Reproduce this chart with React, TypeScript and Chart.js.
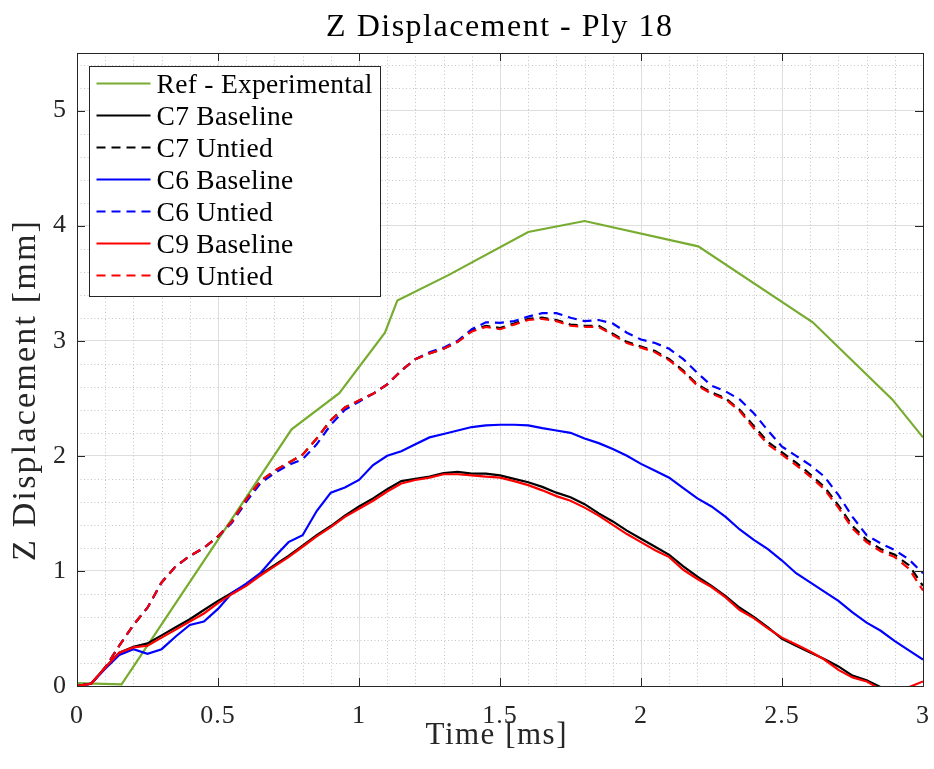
import React, { useEffect, useRef } from "react";
import { Chart, registerables } from "chart.js";

Chart.register(...registerables);

// ---- Data ----
const TIME = [
  0, 0.05, 0.1, 0.15, 0.2, 0.25, 0.3, 0.35, 0.4, 0.45, 0.5, 0.55, 0.6, 0.65, 0.7, 0.75, 0.8, 0.85, 0.9, 0.95,
  1, 1.05, 1.1, 1.15, 1.2, 1.25, 1.3, 1.35, 1.4, 1.45, 1.5, 1.55, 1.6, 1.65, 1.7, 1.75, 1.8, 1.85, 1.9, 1.95,
  2, 2.05, 2.1, 2.15, 2.2, 2.25, 2.3, 2.35, 2.4, 2.45, 2.5, 2.55, 2.6, 2.65, 2.7, 2.75, 2.8, 2.85, 2.9, 2.95, 3,
];

const REF_TIME = [0, 0.158, 0.761, 0.93, 1.092, 1.136, 1.317, 1.6, 1.8, 2.203, 2.609, 2.891, 3.0];
const REF_Z = [0.025, 0.015, 2.23, 2.545, 3.07, 3.35, 3.57, 3.945, 4.04, 3.82, 3.16, 2.49, 2.16];

const C7_BASELINE = [
  0, 0.02, 0.16, 0.29, 0.34, 0.37, 0.44, 0.51, 0.58, 0.66, 0.74, 0.81, 0.88, 0.97, 1.05, 1.13, 1.22, 1.31, 1.39, 1.48,
  1.56, 1.63, 1.71, 1.78, 1.8, 1.82, 1.85, 1.86, 1.845, 1.845, 1.83, 1.8, 1.77, 1.73, 1.68, 1.64, 1.58, 1.5, 1.43, 1.35,
  1.28, 1.21, 1.14, 1.04, 0.95, 0.87, 0.78, 0.68, 0.6, 0.51, 0.41, 0.35, 0.29, 0.235, 0.17, 0.09, 0.05, -0.01, -0.05, -0.08, -0.1,
];
const C7_UNTIED = [
  0, 0.02, 0.16, 0.35, 0.53, 0.68, 0.9, 1.04, 1.13, 1.2, 1.3, 1.43, 1.62, 1.78, 1.87, 1.94, 2.01, 2.15, 2.31, 2.42,
  2.48, 2.54, 2.62, 2.74, 2.84, 2.89, 2.93, 2.99, 3.09, 3.13, 3.11, 3.15, 3.19, 3.2, 3.18, 3.14, 3.13, 3.13, 3.06, 2.99,
  2.95, 2.91, 2.84, 2.74, 2.62, 2.55, 2.5, 2.4, 2.26, 2.12, 2.03, 1.94, 1.84, 1.73, 1.57, 1.39, 1.27, 1.19, 1.14, 1.05, 0.87,
];
const C6_BASELINE = [
  0, 0.02, 0.15, 0.27, 0.32, 0.28, 0.32, 0.43, 0.53, 0.56, 0.67, 0.81, 0.89, 0.98, 1.12, 1.25, 1.31, 1.52, 1.68, 1.725,
  1.79, 1.92, 2.0, 2.04, 2.1, 2.16, 2.19, 2.22, 2.25, 2.265, 2.27, 2.27, 2.265, 2.24, 2.22, 2.2, 2.15, 2.11, 2.06, 2.0,
  1.93, 1.87, 1.81, 1.72, 1.63, 1.56, 1.47, 1.36, 1.27, 1.19, 1.09, 0.98, 0.9, 0.82, 0.74, 0.64, 0.55, 0.48, 0.39, 0.31, 0.23,
];
const C6_UNTIED = [
  0, 0.02, 0.16, 0.35, 0.53, 0.68, 0.9, 1.04, 1.13, 1.2, 1.3, 1.42, 1.6, 1.76, 1.85, 1.92, 1.97, 2.1, 2.27, 2.4,
  2.47, 2.54, 2.62, 2.74, 2.84, 2.9, 2.94, 3.0, 3.1, 3.16, 3.155, 3.17, 3.21, 3.24, 3.24, 3.2, 3.17, 3.18, 3.15, 3.07,
  3.01, 2.98, 2.93, 2.84, 2.72, 2.61, 2.56, 2.49, 2.37, 2.22, 2.08, 2.0, 1.92, 1.82, 1.66, 1.47, 1.31, 1.24, 1.18, 1.1, 0.98,
];
const C9_BASELINE = [
  0, 0.02, 0.16, 0.29, 0.335, 0.35, 0.42, 0.49, 0.56, 0.63, 0.72, 0.8, 0.87, 0.96, 1.04, 1.12, 1.21, 1.3, 1.38, 1.47,
  1.54, 1.61, 1.69, 1.76, 1.79, 1.81, 1.84, 1.84, 1.83, 1.82, 1.81, 1.78, 1.745, 1.7, 1.65, 1.61, 1.55, 1.48, 1.4, 1.32,
  1.25, 1.18, 1.12, 1.01, 0.93, 0.86, 0.77, 0.66, 0.59, 0.5, 0.42, 0.36, 0.3, 0.23, 0.14, 0.075, 0.04, -0.03, -0.06, -0.01, 0.04,
];
const C9_UNTIED = [
  0, 0.02, 0.16, 0.35, 0.53, 0.68, 0.9, 1.04, 1.13, 1.2, 1.3, 1.43, 1.62, 1.78, 1.87, 1.94, 2.01, 2.15, 2.31, 2.42,
  2.48, 2.54, 2.62, 2.74, 2.84, 2.89, 2.93, 2.99, 3.08, 3.12, 3.1, 3.14, 3.18, 3.19, 3.17, 3.13, 3.12, 3.12, 3.05, 2.98,
  2.94, 2.9, 2.83, 2.73, 2.61, 2.54, 2.49, 2.39, 2.24, 2.1, 2.01, 1.92, 1.82, 1.71, 1.55, 1.37, 1.25, 1.17, 1.12, 1.02, 0.83,
];

const X_TICKS = [0, 0.5, 1, 1.5, 2, 2.5, 3];
const Y_TICKS = [0, 1, 2, 3, 4, 5];

const TITLE = "Z Displacement - Ply 18";
const X_LABEL = "Time [ms]";
const Y_LABEL = "Z Displacement [mm]";

const SERIES = [
  { label: "Ref - Experimental", t: REF_TIME, z: REF_Z, color: "#77AC30", dash: [] as number[] },
  { label: "C7 Baseline", t: TIME, z: C7_BASELINE, color: "#000000", dash: [] as number[] },
  { label: "C7 Untied", t: TIME, z: C7_UNTIED, color: "#000000", dash: [9, 6] },
  { label: "C6 Baseline", t: TIME, z: C6_BASELINE, color: "#0000FF", dash: [] as number[] },
  { label: "C6 Untied", t: TIME, z: C6_UNTIED, color: "#0000FF", dash: [9, 6] },
  { label: "C9 Baseline", t: TIME, z: C9_BASELINE, color: "#FF0000", dash: [] as number[] },
  { label: "C9 Untied", t: TIME, z: C9_UNTIED, color: "#FF0000", dash: [9, 6] },
];

const FONT = "'Liberation Serif', 'Times New Roman', serif";
const AXIS_COLOR = "#262626";

function spacedText(ctx: any, text: string, x: number, y: number, size: number, ls: number, color: string, rotate = 0) {
  ctx.save();
  ctx.font = `${size}px ${FONT}`;
  ctx.letterSpacing = `${ls}px`;
  ctx.fillStyle = color;
  ctx.textBaseline = "alphabetic";
  ctx.textAlign = "left";
  const w = ctx.measureText(text).width - ls;
  ctx.translate(x, y);
  if (rotate) ctx.rotate(rotate);
  ctx.fillText(text, -w / 2, 0);
  ctx.restore();
}

const decorPlugin = {
  id: "decor",
  beforeDraw(chart: any) {
    chart.ctx.letterSpacing = "1px";
  },
  beforeDatasetsDraw(chart: any) {
    const { ctx, chartArea: a, scales } = chart;
    const xs = scales.x;
    const ys = scales.y;
    ctx.save();
    ctx.strokeStyle = "#c4c4c4";
    ctx.lineWidth = 1;
    ctx.setLineDash([1, 2.5]);
    for (let i = 1; i < 30; i++) {
      if (i % 5 === 0) continue;
      const px = Math.round(xs.getPixelForValue(i / 10)) + 0.5;
      ctx.beginPath();
      ctx.moveTo(px, a.top);
      ctx.lineTo(px, a.bottom);
      ctx.stroke();
    }
    for (let i = 1; i < 28; i++) {
      if (i % 5 === 0) continue;
      const py = Math.round(ys.getPixelForValue(i / 5)) + 0.5;
      ctx.beginPath();
      ctx.moveTo(a.left, py);
      ctx.lineTo(a.right, py);
      ctx.stroke();
    }
    ctx.restore();
  },
  afterDatasetsDraw(chart: any) {
    const { ctx, chartArea: a, scales } = chart;
    const xs = scales.x;
    const ys = scales.y;
    ctx.save();
    ctx.setLineDash([]);
    ctx.strokeStyle = AXIS_COLOR;
    ctx.lineWidth = 1;
    ctx.strokeRect(Math.round(a.left) + 0.5, Math.round(a.top) + 0.5, Math.round(a.right - a.left), Math.round(a.bottom - a.top));
    const tl = 8;
    for (const v of X_TICKS) {
      const px = Math.round(xs.getPixelForValue(v)) + 0.5;
      ctx.beginPath();
      ctx.moveTo(px, a.bottom);
      ctx.lineTo(px, a.bottom - tl);
      ctx.moveTo(px, a.top);
      ctx.lineTo(px, a.top + tl);
      ctx.stroke();
    }
    for (const v of Y_TICKS) {
      const py = Math.round(ys.getPixelForValue(v)) + 0.5;
      ctx.beginPath();
      ctx.moveTo(a.left, py);
      ctx.lineTo(a.left + tl, py);
      ctx.moveTo(a.right, py);
      ctx.lineTo(a.right - tl, py);
      ctx.stroke();
    }
    // legend
    const bx = a.left + 12.5;
    const by = a.top + 13.5;
    const bw = 291;
    const bh = 230;
    ctx.fillStyle = "#ffffff";
    ctx.fillRect(bx, by, bw, bh);
    ctx.strokeStyle = AXIS_COLOR;
    ctx.strokeRect(bx, by, bw, bh);
    ctx.font = `27.5px ${FONT}`;
    ctx.letterSpacing = "0.3px";
    ctx.textBaseline = "alphabetic";
    ctx.textAlign = "left";
    chart.data.datasets.forEach((ds: any, i: number) => {
      const cy = by + 17 + i * 32;
      ctx.strokeStyle = ds.borderColor;
      ctx.lineWidth = 2.2;
      ctx.setLineDash(ds.borderDash || []);
      ctx.beginPath();
      ctx.moveTo(bx + 7, cy);
      ctx.lineTo(bx + 61, cy);
      ctx.stroke();
      ctx.setLineDash([]);
      ctx.fillStyle = "#000000";
      ctx.fillText(ds.label, bx + 67, cy + 9);
    });
    ctx.restore();

    // title and axis labels
    spacedText(ctx, TITLE, (a.left + a.right) / 2 - 1, 36, 32, 1.5, "#000000");
    spacedText(ctx, X_LABEL, (a.left + a.right) / 2 - 4, 744, 31, 1.5, AXIS_COLOR);
    spacedText(ctx, Y_LABEL, 35, 391, 34, 2.2, AXIS_COLOR, -Math.PI / 2);
  },
};

export default function App() {
  const canvasRef = useRef<HTMLCanvasElement | null>(null);

  useEffect(() => {
    if (!canvasRef.current) return;
    const datasets = SERIES.map((s, i) => ({
      label: s.label,
      data: s.t.map((t, k) => ({ x: t, y: s.z[k] })),
      borderColor: s.color,
      backgroundColor: s.color,
      borderWidth: 2.2,
      borderDash: s.dash,
      pointRadius: 0,
      tension: 0,
      fill: false,
      order: SERIES.length - i,
    }));
    const chart = new Chart(canvasRef.current, {
      type: "line",
      data: { datasets },
      plugins: [decorPlugin],
      options: {
        animation: false,
        responsive: false,
        devicePixelRatio: 1,
        layout: { padding: { left: 0, right: 11, top: 53, bottom: 0 } },
        plugins: {
          legend: { display: false },
          tooltip: { enabled: false },
          title: { display: false },
        },
        scales: {
          x: {
            type: "linear",
            min: 0,
            max: 3,
            afterBuildTicks: (scale: any) => {
              scale.ticks = X_TICKS.map((v) => ({ value: v }));
            },
            afterFit: (scale: any) => {
              scale.height = 83;
              scale.paddingLeft = 0;
              scale.paddingRight = 0;
            },
            grid: { color: "#dedede", drawTicks: false, lineWidth: 1 },
            border: { display: false },
            ticks: {
              color: AXIS_COLOR,
              font: { family: FONT, size: 26 },
              padding: 15,
              maxRotation: 0,
              callback: (v: any) => String(v),
            },
          },
          y: {
            type: "linear",
            min: 0,
            max: 5.5,
            afterBuildTicks: (scale: any) => {
              scale.ticks = Y_TICKS.map((v) => ({ value: v }));
            },
            afterFit: (scale: any) => {
              scale.width = 77;
              scale.paddingTop = 0;
              scale.paddingBottom = 0;
            },
            grid: { color: "#dedede", drawTicks: false, lineWidth: 1 },
            border: { display: false },
            ticks: {
              color: AXIS_COLOR,
              font: { family: FONT, size: 26 },
              padding: 10,
              callback: (v: any) => String(v),
            },
          },
        },
      } as any,
    });
    return () => chart.destroy();
  }, []);

  return (
    <div style={{ position: "absolute", left: 0, top: 0, width: 934, height: 769, background: "#ffffff" }}>
      <canvas
        ref={canvasRef}
        width={934}
        height={769}
        style={{ display: "block", width: 934, height: 769 }}
        aria-label={`${TITLE}; ${X_LABEL}; ${Y_LABEL}`}
      />
    </div>
  );
}
